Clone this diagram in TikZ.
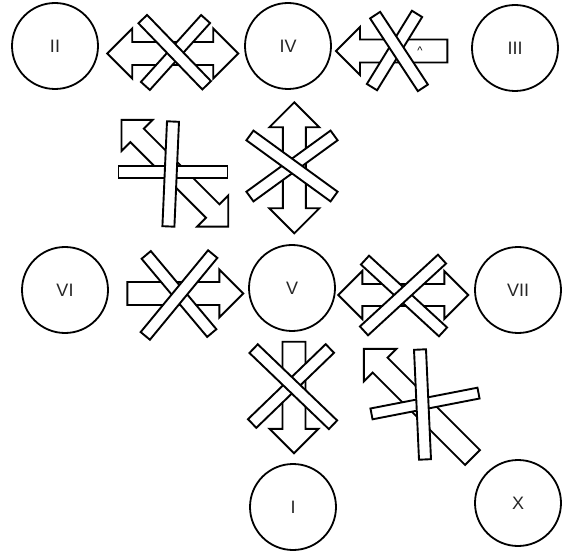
\documentclass[tikz,border=0pt]{standalone}
\usepackage{fontspec}
\setmainfont{Liberation Sans}

% double-headed arrow outline: centre (#1,#2), angle #3, half length #4, head size #5, shaft half width #6
\newcommand\dblarrowglyph[6]{%
  \draw[glyph, shift={(#1,#2)}, rotate=#3]
    (-#4,0) -- ({-#4+#5},-#5) -- ({-#4+#5},-#6) -- ({#4-#5},-#6) -- ({#4-#5},-#5)
    -- (#4,0) -- ({#4-#5},#5) -- ({#4-#5},#6) -- ({-#4+#5},#6) -- ({-#4+#5},#5) -- cycle;}
% single arrow outline pointing along angle #3
\newcommand\onearrowglyph[6]{%
  \draw[glyph, shift={(#1,#2)}, rotate=#3]
    (-#4,-#6) -- ({#4-#5},-#6) -- ({#4-#5},-#5) -- (#4,0) -- ({#4-#5},#5)
    -- ({#4-#5},#6) -- (-#4,#6) -- cycle;}

\begin{document}
\begin{tikzpicture}[x=1pt,y=-1pt,
  glyph/.style={draw=black, fill=white, line width=1.9pt, line join=miter},
  barshape/.style={glyph, rectangle, inner sep=0pt, minimum width=#1, minimum height=12pt},
  state/.style={circle, draw=black, line width=1.8pt, minimum size=86pt, inner sep=0pt,
    font=\fontsize{18}{18}\selectfont, text=black!85}]
\useasboundingbox (0,0) rectangle (562,553);
\fill[white] (0,0) rectangle (562,553);

% states
\node[state] (n2) at (55,46) {II};
\node[state] (n4) at (288,46) {IV};
\node[state] (n3) at (515,48) {III};
\node[state] (n6) at (65,290) {VI};
\node[state] (n5) at (292,288) {V};
\node[state] (n7) at (518,290) {VII};
\node[state] (n1) at (293,507) {I};
\node[state] (n10) at (518,503) {X};

% II <-> IV, crossed
\dblarrowglyph{172.7}{53.5}{0}{65.5}{25}{11.5}
\node[barshape=90pt, rotate=48] (b1a) at (175.5,52.5) {};
\node[barshape=92pt, rotate=-46] (b1b) at (174.7,52.2) {};

% IV <- III, crossed
\onearrowglyph{391.7}{51}{180}{55.7}{24}{11.5}
\node[font=\fontsize{11}{11}\selectfont, inner sep=0pt, anchor=base] (caret) at (420,55) {\textasciicircum};
\node[barshape=86pt, rotate=58.4] (b2a) at (394.5,50.5) {};
\node[barshape=87pt, rotate=-56.7] (b2b) at (399,51.5) {};

% diagonal double arrow with upright cross
\dblarrowglyph{174.9}{173.2}{-45}{75.5}{22}{9.5}
\node[barshape=109pt, rotate=0] (b3a) at (173,171.7) {};
\node[barshape=105pt, rotate=87.5] (b3b) at (170.7,174) {};

% IV <-> V, crossed
\dblarrowglyph{294.3}{167.8}{90}{65.5}{25}{11.5}
\node[barshape=104pt, rotate=36] (b4a) at (292,166) {};
\node[barshape=104pt, rotate=-36] (b4b) at (292,166) {};

% VI -> V, crossed
\onearrowglyph{185.3}{293.5}{0}{58}{24}{11.5}
\node[barshape=102pt, rotate=-50] (b5a) at (179,294) {};
\node[barshape=106pt, rotate=50.5] (b5b) at (179,295) {};

% V <-> VII, crossed
\dblarrowglyph{403.3}{295}{0}{65}{24}{11}
\node[barshape=106pt, rotate=-42.6] (b6a) at (404,296) {};
\node[barshape=106pt, rotate=42.6] (b6b) at (403,295) {};

% V -> I, crossed
\onearrowglyph{294}{397.5}{-90}{55.8}{24.5}{11.5}
\node[barshape=108pt, rotate=44] (b7a) at (291,386) {};
\node[barshape=110pt, rotate=-43.8] (b7b) at (293.3,386.7) {};

% X -> V diagonal, with tilted cross
\onearrowglyph{418.2}{403.2}{135}{76.8}{23}{10.5}
\node[barshape=109pt, minimum height=11pt, rotate=11] (b8a) at (425,403.5) {};
\node[barshape=110pt, rotate=92.6] (b8b) at (422.5,404.5) {};
\end{tikzpicture}
\end{document}
